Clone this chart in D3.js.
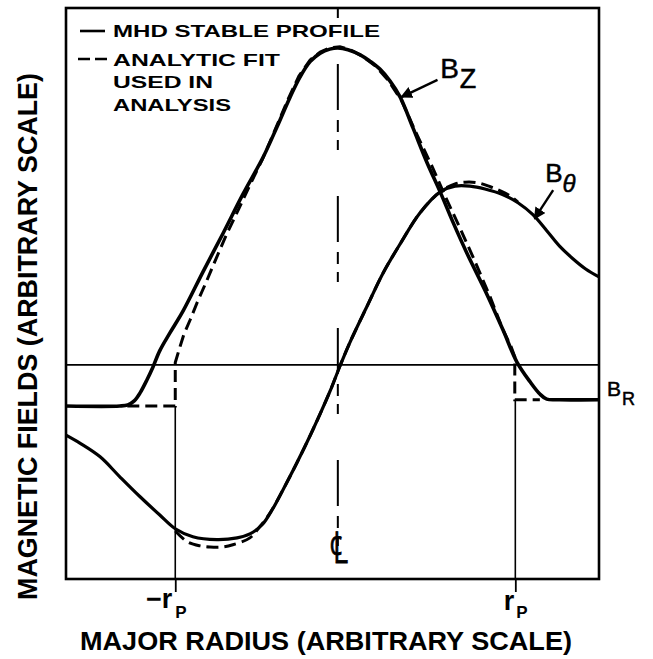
<!DOCTYPE html>
<html>
<head>
<meta charset="utf-8">
<script src="https://cdn.jsdelivr.net/npm/d3@7"></script>
<style>
body { margin: 0; background: #fff; }
svg { display: block; }
text { font-family: "Liberation Sans", Arial, sans-serif; fill: #000; }
</style>
</head>
<body>
<script>
var w = 653;
var h = 659;

// arbitrary units: centre line at x = 0, B = 0 on the horizontal baseline
var xDomain = [-51, 49];
var yDomain = [-37.5, 62.5];

// MHD stable profile (solid)
var bzProfile = [[-51.0,-7.2],[-40.9,-7.2],[-39.4,-7.0],[-38.2,-6.3],[-37.1,-4.9],[-35.8,-2.6],[-34.7,-0.4],
	[-33.4,2.5],[-31.5,5.6],[-29.0,9.5],[-25.3,16.3],[-21.5,23.1],[-17.8,29.9],[-14.0,36.4],[-11.4,41.7],
	[-9.0,46.8],[-7.1,50.4],[-5.2,53.1],[-3.3,54.6],[-1.5,55.3],[0.0,55.5],[1.9,55.2],[4.2,54.3],[6.0,53.2],
	[7.9,51.8],[9.8,49.7],[11.7,46.9],[14.1,41.5],[16.7,35.5],[19.2,30.3],[21.6,25.0],[24.2,19.6],[28.0,12.3],
	[31.0,6.1],[33.6,0.5],[36.1,-3.0],[37.9,-5.1],[39.2,-6.0],[41.6,-6.1],[49.0,-6.1]];

var bthetaProfile = [[-51.0,-12.3],[-48.4,-13.7],[-44.6,-16.1],[-40.9,-19.6],[-37.1,-23.1],[-33.4,-26.3],
	[-30.5,-28.7],[-27.2,-30.1],[-22.7,-30.6],[-18.9,-30.3],[-16.5,-29.6],[-14.2,-28.0],[-12.2,-25.2],
	[-10.3,-21.9],[-7.7,-17.2],[-4.7,-11.4],[-1.5,-4.7],[0.4,-0.2],[2.3,4.0],[5.5,10.3],[8.5,16.1],[11.7,21.2],
	[15.4,26.6],[19.2,30.3],[22.0,31.3],[24.8,31.3],[27.6,30.8],[31.0,29.8],[33.8,28.4],[36.6,26.3],
	[39.2,23.5],[41.6,20.8],[44.1,18.6],[46.5,16.8],[49.0,15.4]];

// analytic fit used in analysis (dashed)
var bzFit = [[-39.5,-7.2],[-30.5,-7.2],[-30.5,0.4],[-29.8,2.6],[-28.9,5.3],[-27.7,7.9],[-26.4,10.9],
	[-24.7,14.5],[-22.8,18.7],[-21.0,22.6],[-18.7,27.1],[-16.5,31.5],[-14.2,35.9],[-11.8,41.1],[-9.3,46.6],
	[-7.3,50.6],[-5.2,53.4],[-3.3,54.8],[-1.5,55.5],[0.4,55.7],[2.3,55.2],[4.5,54.1],[7.0,52.4],[9.4,49.9],
	[12.0,46.2],[14.8,40.4],[17.7,34.7],[20.3,29.2],[22.9,24.0],[25.5,18.6],[28.5,12.1],[31.0,6.1],
	[32.5,3.2],[33.2,1.4],[33.2,-6.1],[37.9,-6.1]];

var bthetaFit = [[-30.5,-29.1],[-28.2,-31.0],[-25.8,-31.7],[-24.0,-31.9],[-21.7,-31.9],[-19.7,-31.5],
	[-16.5,-30.3],[-14.7,-28.4],[-12.7,-25.9],[-10.3,-21.9],[-7.7,-17.2],[-4.7,-11.4],[-1.5,-4.7],
	[0.4,-0.2],[2.3,4.0],[5.5,10.3],[8.5,16.1],[11.7,21.2],[15.4,26.6],[19.2,30.3],
	[22.0,31.7],[23.9,32.0],[26.2,31.9],[28.6,31.2],[30.4,30.5],[32.3,29.6],[33.8,28.5]];

var rp = [-30.5, 33.3];
var rpFlat = [-7.2, -6.1];
var legendLines = ["MHD STABLE PROFILE", "ANALYTIC FIT", "USED IN", "ANALYSIS"];
var xTitle = "MAJOR RADIUS (ARBITRARY SCALE)";
var yTitle = "MAGNETIC FIELDS (ARBITRARY SCALE)";

var xScale = d3.scaleLinear().domain(xDomain).range([66, 599]);
var yScale = d3.scaleLinear().domain(yDomain).range([579, 8]);

var svg = d3.select("body")
			.append("svg")
			.attr("width", w)
			.attr("height", h);

var line = d3.line()
			.x(function(d) { return xScale(d[0]); })
			.y(function(d) { return yScale(d[1]); });

var smooth = d3.line()
			.x(function(d) { return xScale(d[0]); })
			.y(function(d) { return yScale(d[1]); })
			.curve(d3.curveCatmullRom.alpha(0.5));

// frame
svg.append("rect")
	.attr("x", xScale(xDomain[0]))
	.attr("y", yScale(yDomain[1]))
	.attr("width", xScale(xDomain[1]) - xScale(xDomain[0]))
	.attr("height", yScale(yDomain[0]) - yScale(yDomain[1]))
	.attr("fill", "none")
	.attr("stroke", "#000")
	.attr("stroke-width", 2.6);

// baseline B = 0
svg.append("line")
	.attr("x1", xScale(xDomain[0])).attr("x2", xScale(xDomain[1]))
	.attr("y1", yScale(0)).attr("y2", yScale(0))
	.attr("stroke", "#000").attr("stroke-width", 1.8);

// centre line
svg.append("line")
	.attr("x1", xScale(0)).attr("x2", xScale(0))
	.attr("y1", yScale(yDomain[1])).attr("y2", yScale(yDomain[0]))
	.attr("stroke", "#000").attr("stroke-width", 2)
	.attr("stroke-dasharray", "10,46,46,10,12,8");

// thin verticals at +/- r_p
svg.selectAll(".rpline")
	.data(rp)
	.enter()
	.append("line")
	.attr("x1", function(d) { return xScale(d); })
	.attr("x2", function(d) { return xScale(d); })
	.attr("y1", function(d, i) { return yScale(rpFlat[i]); })
	.attr("y2", yScale(yDomain[0]))
	.attr("stroke", "#000").attr("stroke-width", 1.6);

// ticks below the frame
var xAxis = d3.axisBottom(xScale).tickValues(rp).tickSizeInner(13).tickSizeOuter(0).tickFormat("");
var ax = svg.append("g")
	.attr("transform", "translate(0," + yScale(yDomain[0]) + ")")
	.call(xAxis);
ax.select(".domain").remove();
ax.selectAll(".tick line").attr("stroke-width", 1.8);

// curves
svg.append("path").datum(bzProfile)
	.attr("d", smooth).attr("fill", "none").attr("stroke", "#000")
	.attr("stroke-width", 3.6).attr("stroke-linejoin", "round");

svg.append("path").datum(bthetaProfile)
	.attr("d", smooth).attr("fill", "none").attr("stroke", "#000")
	.attr("stroke-width", 3.2).attr("stroke-linejoin", "round");

svg.append("path").datum(bzFit)
	.attr("d", line).attr("fill", "none").attr("stroke", "#000")
	.attr("stroke-width", 3).attr("stroke-dasharray", "12,6");

svg.append("path").datum(bthetaFit)
	.attr("d", smooth).attr("fill", "none").attr("stroke", "#000")
	.attr("stroke-width", 3).attr("stroke-dasharray", "12,6");

// legend
var legend = svg.append("g");
legend.append("line")
	.attr("x1", 80).attr("x2", 105).attr("y1", 31).attr("y2", 31)
	.attr("stroke", "#000").attr("stroke-width", 2.6);
legend.append("line")
	.attr("x1", 78).attr("x2", 107).attr("y1", 59).attr("y2", 59)
	.attr("stroke", "#000").attr("stroke-width", 2.6)
	.attr("stroke-dasharray", "12,5");

var legendY = [37, 66, 88, 111];
var legendW = [267, 167, 100, 118];
legend.selectAll("text")
	.data(legendLines)
	.enter()
	.append("text")
	.attr("x", 113)
	.attr("y", function(d, i) { return legendY[i]; })
	.attr("font-size", 17)
	.attr("font-weight", "bold")
	.attr("textLength", function(d, i) { return legendW[i]; })
	.attr("lengthAdjust", "spacingAndGlyphs")
	.text(function(d) { return d; });

// curve labels with arrows
svg.append("defs").append("marker")
	.attr("id", "head")
	.attr("viewBox", "0 0 10 10")
	.attr("refX", 9).attr("refY", 5)
	.attr("markerWidth", 5).attr("markerHeight", 5)
	.attr("orient", "auto")
	.append("path").attr("d", "M0,0L10,5L0,10z").attr("fill", "#000");

var arrows = [
	{tail: [18.7, 49.9], tip: [11.9, 46.9]},
	{tail: [40.4, 30.6], tip: [36.9, 25.6]}
];
svg.selectAll(".arrow")
	.data(arrows)
	.enter()
	.append("line")
	.attr("x1", function(d) { return xScale(d.tail[0]); })
	.attr("y1", function(d) { return yScale(d.tail[1]); })
	.attr("x2", function(d) { return xScale(d.tip[0]); })
	.attr("y2", function(d) { return yScale(d.tip[1]); })
	.attr("stroke", "#000").attr("stroke-width", 2.4)
	.attr("marker-end", "url(#head)");

function label(x, y, main, sub, size, subSize, dx, dy, italic) {
	var t = svg.append("text")
		.attr("x", xScale(x)).attr("y", yScale(y))
		.attr("stroke", "#000").attr("stroke-width", 0.5);
	t.append("tspan").attr("font-size", size).text(main);
	t.append("tspan")
		.attr("dx", dx).attr("dy", dy)
		.attr("font-size", subSize)
		.attr("font-style", italic ? "italic" : "normal")
		.text(sub);
}
label(19.2, 50.3, "B", "Z", 28, 27, 1, 10, false);
label(38.9, 32.0, "B", "θ", 26, 24, 0, 10, true);
label(50.5, -5.4, "B", "R", 21, 18, 1, 9, false);

// x tick labels
svg.append("text")
	.attr("x", xScale(rp[0]) - 3).attr("y", 608)
	.attr("text-anchor", "end")
	.attr("font-size", 27).attr("font-weight", "bold")
	.text("−r");
svg.append("text")
	.attr("x", xScale(rp[0])).attr("y", 618)
	.attr("font-size", 17).attr("font-weight", "bold")
	.text("P");
svg.append("text")
	.attr("x", xScale(rp[1]) - 1).attr("y", 610)
	.attr("text-anchor", "end")
	.attr("font-size", 27).attr("font-weight", "bold")
	.text("r");
svg.append("text")
	.attr("x", xScale(rp[1]) + 1).attr("y", 618)
	.attr("font-size", 17).attr("font-weight", "bold")
	.text("P");

// centre line symbol
svg.append("text")
	.attr("transform", "translate(" + (xScale(0) + 1) + ",563) scale(0.72,1)")
	.attr("text-anchor", "middle")
	.attr("font-family", "'DejaVu Sans', sans-serif")
	.attr("font-size", 44)
	.attr("stroke", "#000").attr("stroke-width", 0.8)
	.text("℄");

// axis titles
svg.append("text")
	.attr("x", 80).attr("y", 650)
	.attr("font-size", 25).attr("font-weight", "bold")
	.attr("textLength", 492)
	.attr("lengthAdjust", "spacingAndGlyphs")
	.text(xTitle);

svg.append("text")
	.attr("transform", "translate(37,600) rotate(-90)")
	.attr("font-size", 27).attr("font-weight", "bold")
	.attr("textLength", 527)
	.attr("lengthAdjust", "spacingAndGlyphs")
	.text(yTitle);
</script>
</body>
</html>
